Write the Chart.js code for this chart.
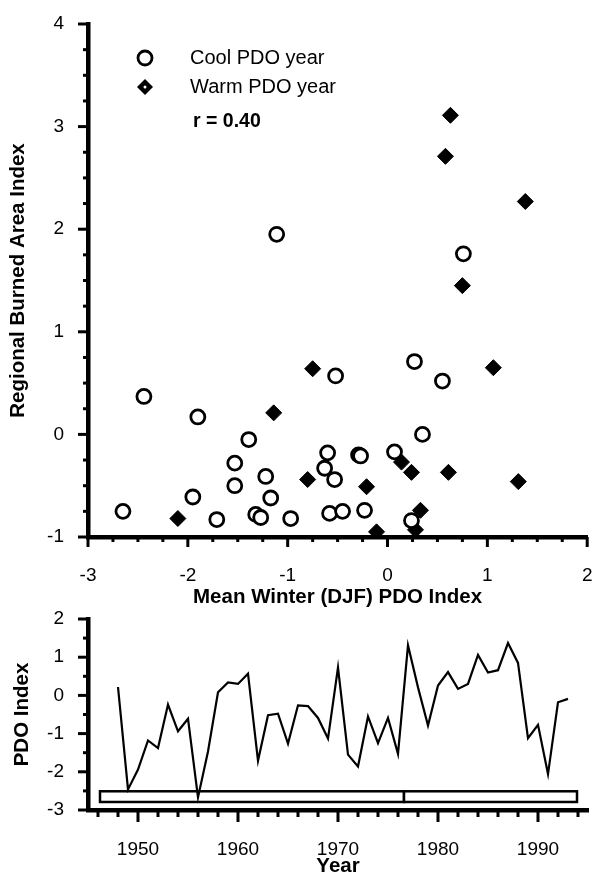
<!DOCTYPE html>
<html>
<head>
<meta charset="utf-8">
<script src="https://cdn.jsdelivr.net/npm/chart.js@4.4.1/dist/chart.umd.min.js"></script>
<style>
  html, body { margin: 0; padding: 0; background: #fff; }
  #wrap { position: relative; width: 597px; height: 877px; overflow: hidden; }
  .box { position: absolute; left: 0; width: 597px; }
  #top { top: 0; height: 612px; }
  #bottom { top: 600px; height: 277px; }
</style>
</head>
<body>
<div id="wrap">
  <div class="box" id="top"><canvas id="scatterChart"></canvas></div>
  <div class="box" id="bottom"><canvas id="pdoChart"></canvas></div>
</div>
<script>
// --- scatter: winter PDO vs regional burned area ---
const coolPdo = [-2.65, -2.44, -1.90, -1.95, -1.71, -1.53, -1.53, -1.39, -1.32, -1.27,
  -1.22, -1.17, -1.11, -0.97, -0.60, -0.63, -0.53, -0.52, -0.58, -0.45,
  -0.29, -0.27, -0.23, 0.07, 0.24, 0.27, 0.35, 0.55, 0.76];
const coolBurn = [-0.75, 0.37, 0.17, -0.61, -0.83, -0.28, -0.50, -0.05, -0.78, -0.81,
  -0.41, -0.62, 1.95, -0.82, -0.18, -0.33, -0.44, 0.57, -0.77, -0.75,
  -0.20, -0.21, -0.74, -0.17, -0.84, 0.71, 0.00, 0.52, 1.76];
const warmPdo = [-2.10, -1.14, -0.75, -0.80, -0.21, -0.11, 0.14, 0.24, 0.33, 0.28,
  0.61, 0.58, 0.63, 0.75, 1.06, 1.31, 1.38];
const warmBurn = [-0.82, 0.21, 0.64, -0.44, -0.51, -0.95, -0.27, -0.37, -0.74, -0.93,
  -0.37, 2.71, 3.11, 1.45, 0.65, -0.46, 2.27];
const seriesLabels = ["Cool PDO year", "Warm PDO year"];
const corrText = "r = 0.40";

// --- PDO index time series ---
const years = [1948, 1949, 1950, 1951, 1952, 1953, 1954, 1955, 1956, 1957,
  1958, 1959, 1960, 1961, 1962, 1963, 1964, 1965, 1966, 1967,
  1968, 1969, 1970, 1971, 1972, 1973, 1974, 1975, 1976, 1977,
  1978, 1979, 1980, 1981, 1982, 1983, 1984, 1985, 1986, 1987,
  1988, 1989, 1990, 1991, 1992, 1993];
const pdoIndex = [0.22, -2.46, -1.94, -1.18, -1.38, -0.24, -0.94, -0.61, -2.67, -1.47,
  0.08, 0.34, 0.30, 0.57, -1.71, -0.52, -0.48, -1.26, -0.26, -0.28,
  -0.59, -1.13, 0.73, -1.55, -1.86, -0.55, -1.25, -0.59, -1.53, 1.31,
  0.21, -0.79, 0.26, 0.61, 0.17, 0.30, 1.06, 0.60, 0.66, 1.37,
  0.85, -1.12, -0.77, -2.06, -0.18, -0.09];
// cool / warm regime bar along the bottom
const regimeStart = [1946.2, 1976.6];
const regimeEnd = [1976.6, 1993.9];
const regimeBand = [-2.79, -2.51];

const FONT = '"Liberation Sans", Arial, sans-serif';

// outward tick marks, long on majors and short on minors
function drawTickMarks(chart, scale, minorStep, majorStep, majorLen, minorLen) {
  const ctx = chart.ctx;
  ctx.save();
  ctx.strokeStyle = "#000";
  ctx.lineWidth = 3;
  scale.ticks.forEach((t) => {
    const v = t.value;
    const onStep = (s) => Math.abs(v / s - Math.round(v / s)) < 1e-6;
    if (!onStep(minorStep)) return;
    const len = onStep(majorStep) ? majorLen : minorLen;
    const p = scale.getPixelForValue(v);
    ctx.beginPath();
    if (scale.isHorizontal()) {
      ctx.moveTo(p, scale.top);
      ctx.lineTo(p, scale.top + len);
    } else {
      ctx.moveTo(scale.right, p);
      ctx.lineTo(scale.right - len, p);
    }
    ctx.stroke();
  });
  ctx.restore();
}

// fixed axis box size, and no extra room for the end labels
function fixSize(size) {
  return (s) => {
    if (s.isHorizontal()) {
      s.height = size;
      s.paddingLeft = 0;
      s.paddingRight = 0;
    } else {
      s.width = size;
      s.paddingTop = 0;
      s.paddingBottom = 0;
    }
  };
}

// gap is the label offset from the axis; real tick marks come from drawTickMarks
function axisOpts(min, max, step, label, size, labelFn, gap) {
  return {
    type: "linear",
    min: min,
    max: max,
    afterFit: fixSize(size),
    grid: {
      display: true,
      drawOnChartArea: false,
      drawTicks: true,
      tickLength: gap,
      tickColor: "rgba(0,0,0,0)",
    },
    border: { display: true, color: "#000", width: 4.5 },
    ticks: {
      stepSize: step,
      autoSkip: false,
      maxRotation: 0,
      padding: 0,
      color: "#000",
      font: { family: FONT, size: 19 },
      callback: labelFn,
    },
    title: {
      display: true,
      text: label,
      color: "#000",
      font: { family: FONT, size: 20.5, weight: "bold", lineHeight: 1 },
      padding: { top: 8, bottom: 4 },
    },
  };
}

const intLabel = (v) => (Number.isInteger(v) ? String(v) : "");

const scatterDecor = {
  id: "scatterDecor",
  afterDraw(chart) {
    drawTickMarks(chart, chart.scales.x, 0.25, 1, 10, 5);
    drawTickMarks(chart, chart.scales.y, 0.25, 1, 10, 5);

    // legend drawn inside the plot
    const ctx = chart.ctx;
    const lx = chart.chartArea.left + 57;
    const tx = chart.chartArea.left + 102;
    ctx.save();
    ctx.strokeStyle = "#000";
    ctx.fillStyle = "#fff";
    ctx.lineWidth = 2.8;
    ctx.beginPath();
    ctx.arc(lx, 58, 7, 0, Math.PI * 2);
    ctx.fill();
    ctx.stroke();

    ctx.fillStyle = "#000";
    ctx.beginPath();
    ctx.moveTo(lx - 8, 87);
    ctx.lineTo(lx, 79);
    ctx.lineTo(lx + 8, 87);
    ctx.lineTo(lx, 95);
    ctx.closePath();
    ctx.fill();
    ctx.fillStyle = "#fff";
    ctx.beginPath();
    ctx.arc(lx, 87, 1.5, 0, Math.PI * 2);
    ctx.fill();

    ctx.fillStyle = "#000";
    ctx.textBaseline = "middle";
    ctx.font = "20px " + FONT;
    ctx.fillText(seriesLabels[0], tx, 58);
    ctx.fillText(seriesLabels[1], tx, 87);
    ctx.font = "bold 19.5px " + FONT;
    ctx.fillText(corrText, tx + 3, 122);
    ctx.restore();
  },
};

new Chart(document.getElementById("scatterChart"), {
  type: "scatter",
  data: {
    datasets: [
      {
        label: seriesLabels[0],
        data: coolPdo.map((x, i) => ({ x: x, y: coolBurn[i] })),
        pointStyle: "circle",
        pointRadius: 7,
        pointBorderWidth: 2.8,
        pointBorderColor: "#000",
        pointBackgroundColor: "#fff",
      },
      {
        label: seriesLabels[1],
        data: warmPdo.map((x, i) => ({ x: x, y: warmBurn[i] })),
        pointStyle: "rectRot",
        pointRadius: 8,
        pointBorderWidth: 1,
        pointBorderColor: "#000",
        pointBackgroundColor: "#000",
      },
    ],
  },
  options: {
    responsive: true,
    maintainAspectRatio: false,
    animation: false,
    layout: { padding: { left: 0, right: 5, top: 24, bottom: 0 } },
    plugins: { legend: { display: false }, tooltip: { enabled: false } },
    scales: {
      x: axisOpts(-3, 2, 0.25, "Mean Winter (DJF) PDO Index", 75, intLabel, 27),
      y: axisOpts(-1, 4, 0.25, "Regional Burned Area Index", 88, intLabel, 24),
    },
  },
  plugins: [scatterDecor],
});

const pdoDecor = {
  id: "pdoDecor",
  beforeDatasetsDraw(chart) {
    const { x, y } = chart.scales;
    const ctx = chart.ctx;
    ctx.save();
    ctx.strokeStyle = "#000";
    ctx.fillStyle = "#fff";
    ctx.lineWidth = 2.5;
    const top = y.getPixelForValue(regimeBand[1]);
    const bot = y.getPixelForValue(regimeBand[0]);
    regimeStart.forEach((s, i) => {
      const x0 = x.getPixelForValue(s);
      const x1 = x.getPixelForValue(regimeEnd[i]);
      ctx.fillRect(x0, top, x1 - x0, bot - top);
      ctx.strokeRect(x0, top, x1 - x0, bot - top);
    });
    ctx.restore();
  },
  afterDraw(chart) {
    drawTickMarks(chart, chart.scales.x, 2, 10, 12, 7);
    drawTickMarks(chart, chart.scales.y, 0.5, 1, 10, 5);
  },
};

const pdoX = axisOpts(1945, 1995, 1, "Year", 67,
  (v) => (v % 10 === 0 ? String(v) : ""), 28);
pdoX.title.padding = { top: 0, bottom: 0 };
const pdoY = axisOpts(-3, 2, 0.5, "PDO Index", 88, intLabel, 24);
pdoY.title.padding = { top: 12, bottom: 0 };

new Chart(document.getElementById("pdoChart"), {
  type: "line",
  data: {
    datasets: [
      {
        label: "PDO Index",
        data: years.map((yr, i) => ({ x: yr, y: pdoIndex[i] })),
        borderColor: "#000",
        borderWidth: 2.2,
        pointRadius: 0,
        tension: 0,
        fill: false,
      },
    ],
  },
  options: {
    responsive: true,
    maintainAspectRatio: false,
    animation: false,
    layout: { padding: { left: 0, right: 9, top: 19, bottom: 0 } },
    plugins: { legend: { display: false }, tooltip: { enabled: false } },
    scales: { x: pdoX, y: pdoY },
  },
  plugins: [pdoDecor],
});
</script>
</body>
</html>
